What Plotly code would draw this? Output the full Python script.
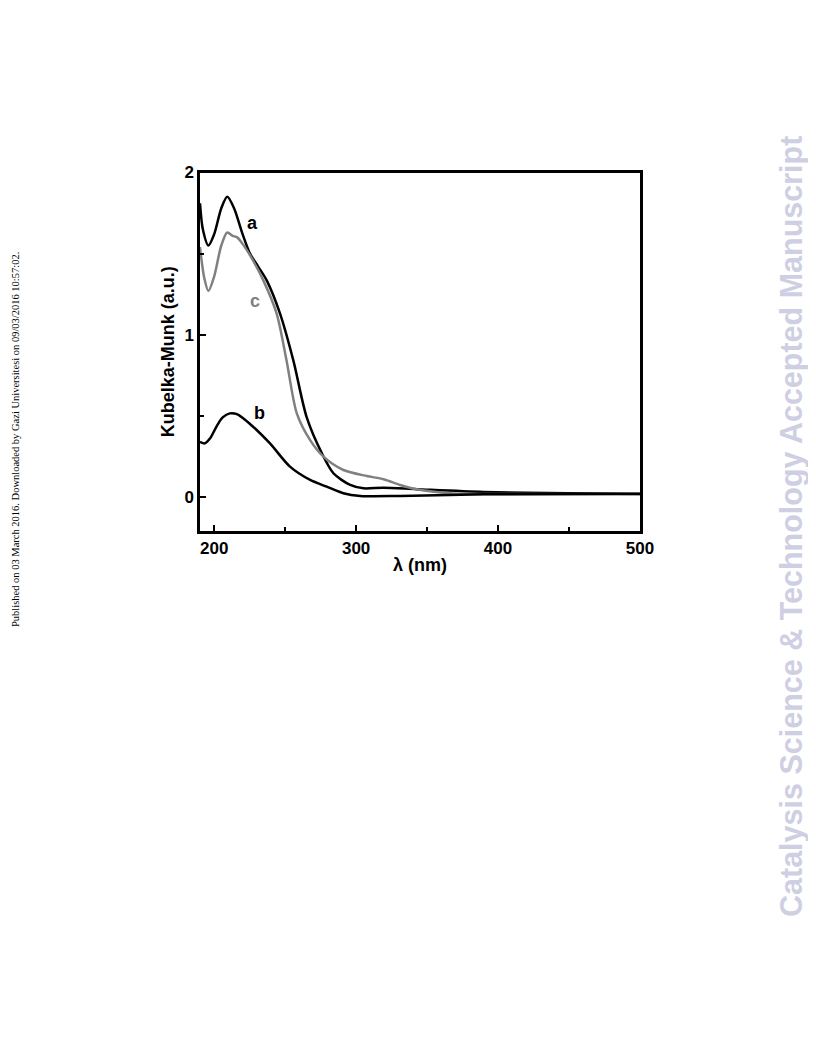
import plotly.graph_objects as go

# Curve a (black)
wl_a = [190, 192, 195.9, 200, 205, 209.2, 214, 220, 225.2, 231, 237, 246.4, 255.8, 265.2, 275.8, 284, 295.8, 305.2, 319.3, 342.8, 389.8, 450, 500]
km_a = [1.81, 1.65, 1.55, 1.62, 1.78, 1.85, 1.78, 1.62, 1.50, 1.42, 1.335, 1.13, 0.84, 0.49, 0.27, 0.146, 0.074, 0.053, 0.057, 0.048, 0.031, 0.022, 0.018]
# Curve c (gray)
wl_c = [190, 193, 195.9, 200, 205, 209.2, 213, 216.2, 220, 225.2, 234.6, 244, 251, 258.2, 267.6, 277, 291, 307.5, 319.3, 331, 342.8, 366.3, 400, 500]
km_c = [1.54, 1.35, 1.27, 1.36, 1.55, 1.63, 1.61, 1.60, 1.56, 1.49, 1.335, 1.13, 0.84, 0.515, 0.35, 0.248, 0.166, 0.129, 0.109, 0.074, 0.047, 0.023, 0.018, 0.016]
# Curve b (black)
wl_b = [190, 193.3, 197, 202, 206, 211, 216, 225.2, 239.3, 253.4, 267.6, 279.3, 291, 303, 331, 390, 500]
km_b = [0.34, 0.33, 0.36, 0.44, 0.49, 0.515, 0.51, 0.45, 0.33, 0.187, 0.105, 0.063, 0.023, 0.006, 0.006, 0.016, 0.02]

labels = ["a", "c", "b"]
label_x = [227, 228.7, 231.6]
label_y = [1.69, 1.21, 0.52]
label_colors = ["#000000", "#808080", "#000000"]

x_ticks = [200, 300, 400, 500]
x_minor = [250, 350, 450]
y_ticks = [0, 1, 2]
y_minor = [0.5, 1.5]

# page body has an 8px margin: figure occupies page pixels 8..808 x 8..1048
OFF = 8
W, H = 800, 1040


def px(x):
    return (x - OFF) / W


def py(y):
    return 1 - (y - OFF) / H


fig = go.Figure()
for wl, km, col in [(wl_a, km_a, "#000000"), (wl_c, km_c, "#808080"), (wl_b, km_b, "#000000")]:
    fig.add_trace(go.Scatter(x=wl, y=km, mode="lines", line=dict(color=col, width=2.5, shape="spline", smoothing=0.8), showlegend=False))

for t, x, y, c in zip(labels, label_x, label_y, label_colors):
    fig.add_annotation(x=x, y=y, text="<b>%s</b>" % t, showarrow=False, font=dict(family="Liberation Sans, Arial", size=18, color=c))

tfont = dict(family="Liberation Sans, Arial", size=17, color="#000000")
afont = dict(family="Liberation Sans, Arial", size=18, color="#000000")
fig.update_xaxes(range=[190, 500], domain=[px(200), px(640)], tickvals=x_ticks, ticktext=["<b>%d</b>" % v for v in x_ticks],
                 ticks="inside", ticklen=6, tickwidth=2, tickcolor="#000", showline=True, linewidth=2.5, linecolor="#000",
                 mirror=True, showgrid=False, zeroline=False, tickfont=tfont, automargin=False,
                 minor=dict(tickvals=x_minor, ticks="inside", ticklen=4, tickwidth=2, tickcolor="#000"),
                 title=dict(text="<b>λ (nm)</b>", font=afont, standoff=2))
fig.update_yaxes(range=[-0.21, 2.0], domain=[py(531), py(172.5)], tickvals=y_ticks, ticktext=["<b>%d</b>" % v for v in y_ticks],
                 ticks="inside", ticklen=6, tickwidth=2, tickcolor="#000", showline=True, linewidth=2.5, linecolor="#000",
                 mirror=True, showgrid=False, zeroline=False, tickfont=tfont, automargin=False,
                 minor=dict(tickvals=y_minor, ticks="inside", ticklen=4, tickwidth=2, tickcolor="#000"),
                 title=dict(text="<b>Kubelka-Munk (a.u.)</b>", font=afont, standoff=6))

fig.add_annotation(xref="paper", yref="paper", x=px(15), y=py(440), xanchor="center", yanchor="middle",
                   textangle=-90, showarrow=False,
                   text="Published on 03 March 2016. Downloaded by Gazi Universitesi on 09/03/2016 10:57:02.",
                   font=dict(family="Liberation Serif, Times New Roman", size=10.5, color="#000"))
fig.add_annotation(xref="paper", yref="paper", x=px(791), y=py(527), xanchor="center", yanchor="middle",
                   textangle=-90, showarrow=False,
                   text="<b>Catalysis Science &amp; Technology Accepted Manuscript</b>",
                   font=dict(family="Liberation Sans, Arial", size=30.5, color="#cfcfe3"))

fig.update_layout(width=W, height=H, margin=dict(l=0, r=0, t=0, b=0), paper_bgcolor="white", plot_bgcolor="white")
fig.write_html("out.html")
